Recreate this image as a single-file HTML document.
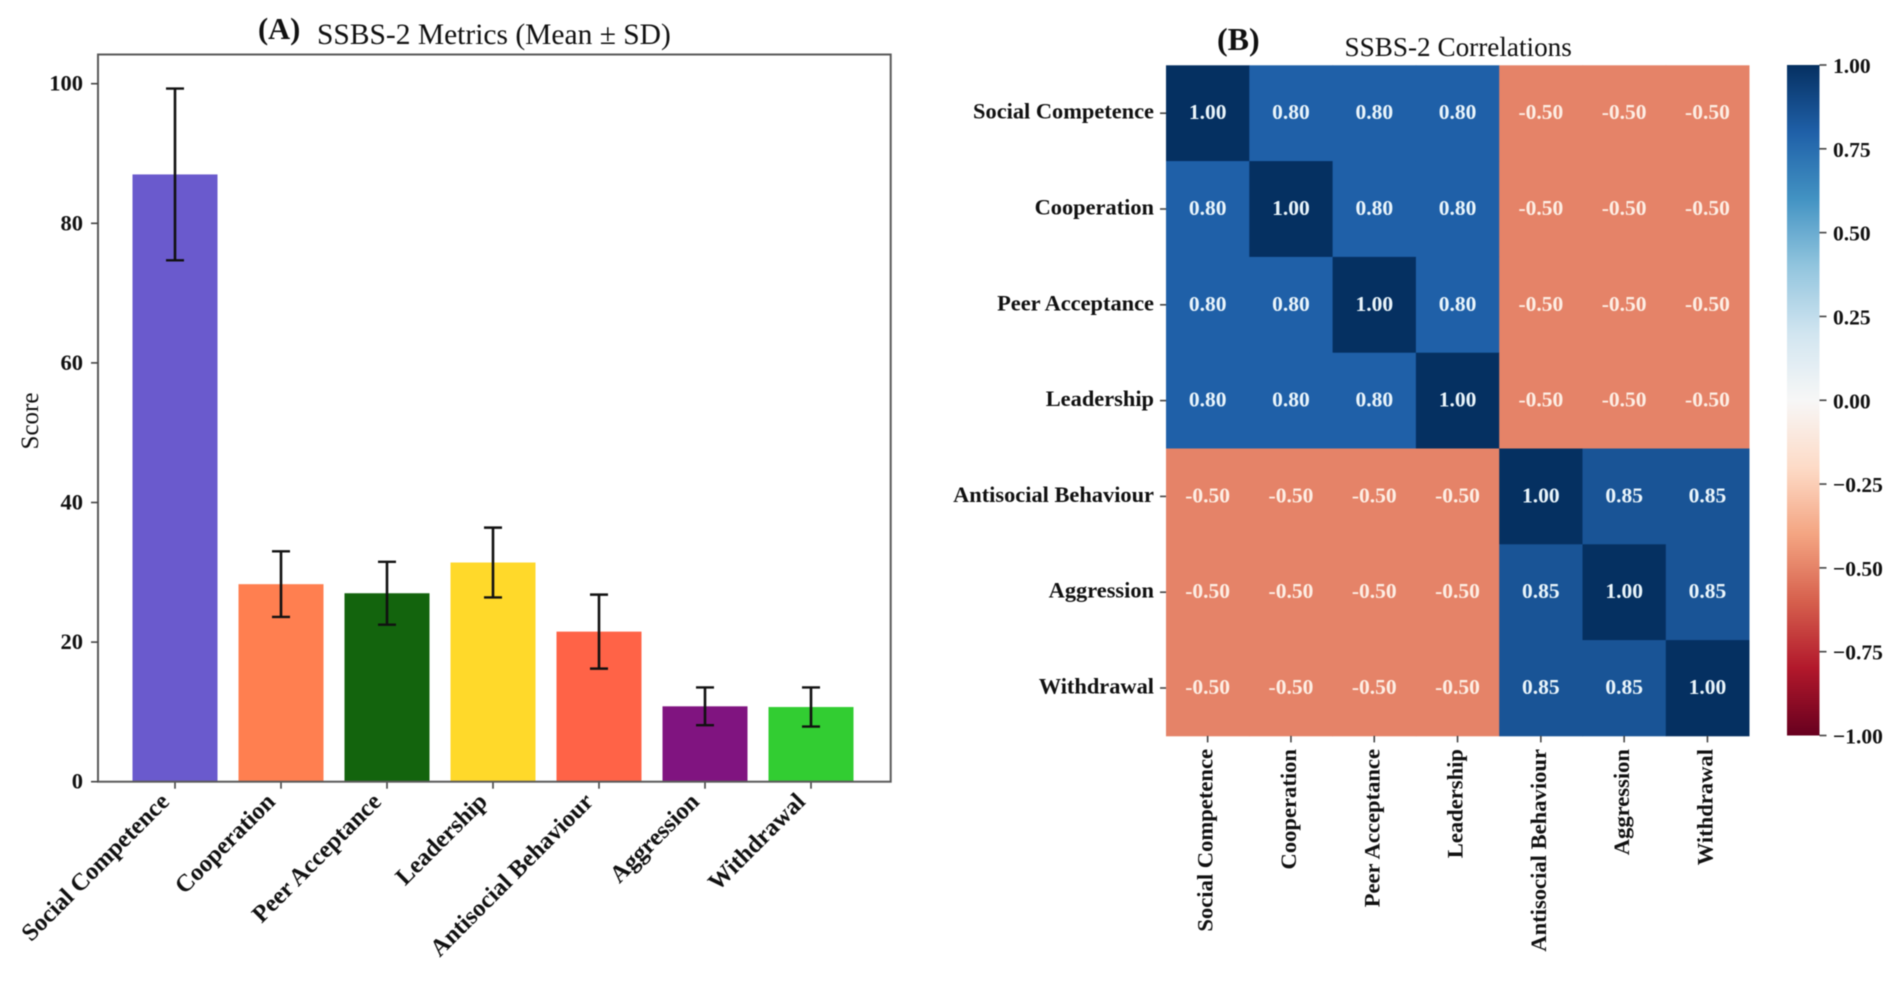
<!DOCTYPE html>
<html lang="en">
<head>
<meta charset="utf-8">
<title>SSBS-2 Metrics and Correlations</title>
<style>
html,body{margin:0;padding:0;background:#fff;width:1902px;height:981px;overflow:hidden}
svg{display:block;filter:blur(0.6px)}
text{font-family:"Liberation Serif",serif;fill:#111}
.b{font-weight:bold}
</style>
</head>
<body>
<svg id="fig" xmlns="http://www.w3.org/2000/svg" width="1902" height="981" viewBox="0 0 1902 981">
  <defs>
    <linearGradient id="cbar-gradient" x1="0" y1="0" x2="0" y2="1"></linearGradient>
  </defs>
  <rect width="1902" height="981" fill="#fff"/>
  <text class="b" x="258" y="39" font-size="30.5">(A)</text>
  <text x="317" y="44" font-size="29.5" fill="#222">SSBS-2 Metrics (Mean ± SD)</text>
  <text x="0" y="0" font-size="25" text-anchor="middle" transform="translate(38 421) rotate(-90)">Score</text>
  <g id="bars"></g>
  <g id="bar-axes"></g>
  <text class="b" x="1217" y="50" font-size="32">(B)</text>
  <text x="1344.5" y="56" font-size="27.2" fill="#222">SSBS-2 Correlations</text>
  <g id="heatmap"></g>
  <g id="heat-axes"></g>
  <rect id="cbar" x="1787" y="65" width="32.5" height="670.5" fill="url(#cbar-gradient)"/>
  <g id="cbar-axis"></g>
</svg>
<script>
// ---- Data ----
const categories = ["Social Competence","Cooperation","Peer Acceptance","Leadership","Antisocial Behaviour","Aggression","Withdrawal"];
const means = [87, 28.3, 27, 31.4, 21.5, 10.8, 10.7];
const sds = [12.3, 4.7, 4.5, 5, 5.3, 2.7, 2.8];
const yTicks = [0, 20, 40, 60, 80, 100];
const colorTicks = [1, 0.75, 0.5, 0.25, 0, -0.25, -0.5, -0.75, -1];
const barColors = ["#6a5acd","#ff7f50","#13640d","#ffd92a","#ff6347","#801480","#32cd32"];
const rowSocial = [1, 0.8, 0.8, 0.8, -0.5, -0.5, -0.5];
const rowCooperation = [0.8, 1, 0.8, 0.8, -0.5, -0.5, -0.5];
const rowPeer = [0.8, 0.8, 1, 0.8, -0.5, -0.5, -0.5];
const rowLeadership = [0.8, 0.8, 0.8, 1, -0.5, -0.5, -0.5];
const rowAntisocial = [-0.5, -0.5, -0.5, -0.5, 1, 0.85, 0.85];
const rowAggression = [-0.5, -0.5, -0.5, -0.5, 0.85, 1, 0.85];
const rowWithdrawal = [-0.5, -0.5, -0.5, -0.5, 0.85, 0.85, 1];
const matrix = [rowSocial, rowCooperation, rowPeer, rowLeadership, rowAntisocial, rowAggression, rowWithdrawal];

// ---- Helpers ----
const NS = "http://www.w3.org/2000/svg";
function make(parent, tag, attrs, txt) {
  const el = document.createElementNS(NS, tag);
  for (const k in attrs) el.setAttribute(k, attrs[k]);
  if (txt !== undefined) el.textContent = txt;
  parent.appendChild(el);
  return el;
}
const SPINE = "#5a5a5a", TICK = "#444";

// ---- Bar chart scales ----
const plot = {left: 98, right: 890.7, top: 54.5, bottom: 781.7};
const xBar = i => 175 + 106 * i;
const yBar = v => plot.bottom - v * 6.98;
const barWidth = 85;

const barsG = document.getElementById("bars");
const axesG = document.getElementById("bar-axes");

categories.forEach((name, i) => {
  const top = yBar(means[i]);
  const bar = make(barsG, "rect", {x: xBar(i) - barWidth / 2, y: top, width: barWidth, height: plot.bottom - top, fill: barColors[i]});
  
  

  const hi = yBar(means[i] + sds[i]), lo = yBar(means[i] - sds[i]);
  const stem = make(barsG, "line", {x1: xBar(i), x2: xBar(i), y1: hi, y2: lo, stroke: "#111", "stroke-width": 2.6});
  
  
  [hi, lo].forEach(y => {
    const cap = make(barsG, "line", {x1: xBar(i) - 9, x2: xBar(i) + 9, y1: y, y2: y, stroke: "#111", "stroke-width": 2.4});
    
    
  });

  const t = make(axesG, "line", {x1: xBar(i), x2: xBar(i), y1: plot.bottom, y2: plot.bottom + 7, stroke: TICK, "stroke-width": 1.6});
  
  

  const lx = xBar(i) - 4.5, ly = 803;
  const lab = make(axesG, "text", {x: 0, y: 0, "font-size": 24.4, "font-weight": "bold", "text-anchor": "end", transform: `translate(${lx} ${ly}) rotate(-45)`}, name);
  
  
});

const frame = make(axesG, "rect", {x: plot.left, y: plot.top, width: plot.right - plot.left, height: plot.bottom - plot.top, fill: "none", stroke: SPINE, "stroke-width": 2});



yTicks.forEach(v => {
  const y = yBar(v);
  const t = make(axesG, "line", {x1: plot.left - 7, x2: plot.left, y1: y, y2: y, stroke: TICK, "stroke-width": 1.6});
  
  
  const lab = make(axesG, "text", {x: 83, y: y + 7, "font-size": 22.5, "font-weight": "bold", "text-anchor": "end"}, String(v));
  
  
});

// ---- Colormap (RdBu_r) ----
const rdbu = ["#67001f","#b2182b","#d6604d","#f4a582","#fddbc7","#f7f7f7","#d1e5f0","#92c5de","#4393c3","#1f60a8","#053061"];
function hexToRgb(h) { return [1, 3, 5].map(p => parseInt(h.slice(p, p + 2), 16)); }
function colorOf(v) {
  const p = Math.max(0, Math.min(1, (v + 1) / 2)) * (rdbu.length - 1);
  const a = Math.min(Math.floor(p), rdbu.length - 2), f = p - a;
  const c1 = hexToRgb(rdbu[a]), c2 = hexToRgb(rdbu[a + 1]);
  return "rgb(" + c1.map((c, k) => Math.round(c + (c2[k] - c) * f)).join(",") + ")";
}

// ---- Heatmap scales ----
const hm = {left: 1166, top: 65.3, cellW: 83.3, cellH: 95.8};
const xCol = c => hm.left + c * hm.cellW;
const yRow = r => hm.top + r * hm.cellH;
const heatG = document.getElementById("heatmap");
const heatAxes = document.getElementById("heat-axes");

matrix.forEach((row, r) => {
  row.forEach((v, c) => {
    const cell = make(heatG, "rect", {x: xCol(c), y: yRow(r), width: hm.cellW + 0.4, height: hm.cellH + 0.4, fill: colorOf(v)});
    
    
  });
});
matrix.forEach((row, r) => {
  row.forEach((v, c) => {
    const label = make(heatG, "text", {x: xCol(c) + hm.cellW / 2, y: yRow(r) + hm.cellH / 2 + 6, "font-size": 21.5, "font-weight": "bold", "text-anchor": "middle", style: "fill:" + (v < 0 ? "#fdeee4" : "#eaf5fb")}, v.toFixed(2));
    
    
  });
});
categories.forEach((name, i) => {
  const cy = yRow(i) + hm.cellH / 2;
  const t = make(heatAxes, "line", {x1: hm.left - 6, x2: hm.left, y1: cy, y2: cy, stroke: TICK, "stroke-width": 1.6});
  
  
  const lab = make(heatAxes, "text", {x: 1154, y: cy + 5.5, "font-size": 22.4, "font-weight": "bold", "text-anchor": "end"}, name);
  
  

  const cx = xCol(i) + hm.cellW / 2;
  const bottom = yRow(7);
  const t2 = make(heatAxes, "line", {x1: cx, x2: cx, y1: bottom, y2: bottom + 6.5, stroke: TICK, "stroke-width": 1.6});
  
  
  const lab2 = make(heatAxes, "text", {x: 0, y: 0, "font-size": 22.6, "font-weight": "bold", "text-anchor": "end", transform: `translate(${cx + 5} 749) rotate(-90)`}, name);
  
  
});

// ---- Colorbar ----
const grad = document.getElementById("cbar-gradient");
for (let k = 0; k <= 40; k++) {
  make(grad, "stop", {offset: (k / 40), "stop-color": colorOf(1 - 2 * k / 40)});
}
const cb = {top: 65, bottom: 735.5, right: 1819.5};
const yCb = v => cb.top + (1 - v) / 2 * (cb.bottom - cb.top);
const cbAxis = document.getElementById("cbar-axis");
colorTicks.forEach(v => {
  const y = yCb(v);
  const t = make(cbAxis, "line", {x1: cb.right, x2: cb.right + 7, y1: y, y2: y, stroke: TICK, "stroke-width": 1.6});
  
  
  const txt = (v < 0 ? "\u2212" : "") + Math.abs(v).toFixed(2);
  const lab = make(cbAxis, "text", {x: 1833, y: y + 8, "font-size": 21.5, "font-weight": "bold"}, txt);
  
  
});
</script>
</body>
</html>
